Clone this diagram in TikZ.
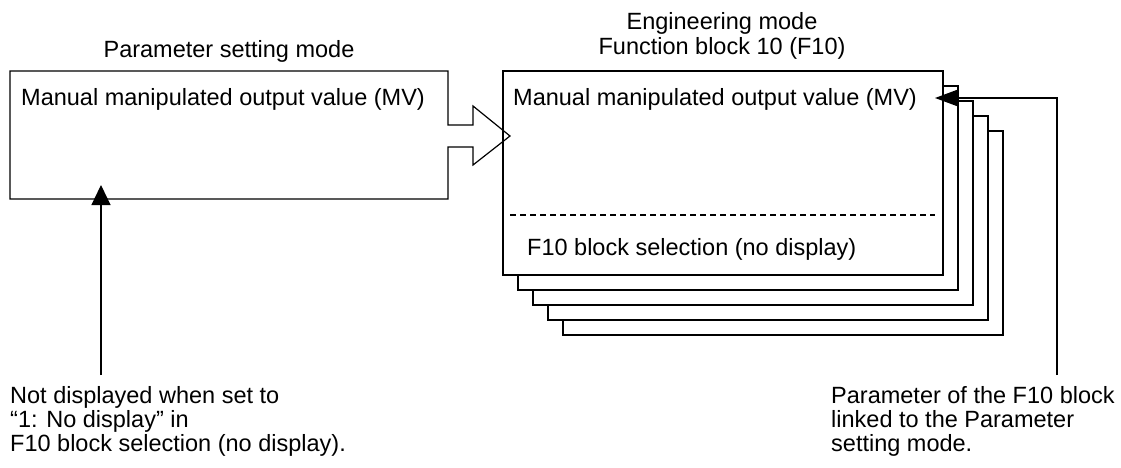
\documentclass[tikz,border=0pt]{standalone}
\usepackage{fontspec}
\setmainfont{Liberation Sans}
\usetikzlibrary{arrows.meta}
\begin{document}
\begin{tikzpicture}[x=1pt,y=-1pt,
  line/.style={line width=1.2pt,line join=miter},
  stackbox/.style={line width=1.2pt,fill=white},
  txt/.style={inner sep=0pt,anchor=base west,font=\fontsize{23.5}{24}\selectfont},
  ctxt/.style={inner sep=0pt,anchor=base,font=\fontsize{23.5}{24}\selectfont},
  uptip/.style={-{Triangle[length=20pt,width=19pt]}},
  lefttip/.style={-{Triangle[length=22pt,width=16pt]}}]
\useasboundingbox (0,0) rectangle (1121,468);
% stacked F10 boxes, back to front
\foreach \k in {4,3,2,1,0}{
  \draw[stackbox] (503+15*\k,71+15*\k) rectangle (943+15*\k,275+15*\k);
}
\node[draw=none,inner sep=0pt,minimum width=440pt,minimum height=204pt,anchor=north west] (front) at (503,71) {};
% left box with outline arrow
\draw[line] (10,71) -- (448,71) -- (448,125) -- (473,125) -- (473,106) -- (510,136)
  -- (473,165) -- (473,147) -- (448,147) -- (448,199) -- (10,199) -- cycle;
\node[inner sep=0pt,minimum width=438pt,minimum height=128pt,anchor=north west] (leftbox) at (10,71) {};
% dashed separator
\draw[line width=1.2pt,dash pattern=on 6pt off 4pt] (510,215) -- (935,215);
% titles
\node[ctxt] (ptitle) at (229,58) {Parameter setting mode};
\node[ctxt] (etitle) at (722,30) {Engineering mode};
\node[ctxt] (ftitle) at (722,55) {Function block 10 (F10)};
% box texts
\node[txt] (lmv) at (21,106) {Manual manipulated output value (MV)};
\node[txt] (rmv) at (513,106) {Manual manipulated output value (MV)};
\node[txt] (sel) at (527,255) {F10 block selection (no display)};
% bottom texts
\node[txt] (l1) at (10,403) {Not displayed when set to};
\node[txt] (l2) at (10,427) {“1: No display” in};
\node[txt] (l3) at (10,451) {F10 block selection (no display).};
\node[txt] (r1) at (831,403) {Parameter of the F10 block};
\node[txt] (r2) at (831,427) {linked to the Parameter};
\node[txt] (r3) at (831,451) {setting mode.};
% connectors
\coordinate (lfoot) at (101,375);
\coordinate (ltip) at (101,185);
\coordinate (rfoot) at (1057,375);
\coordinate (rtip) at (935,98);
\draw[line,uptip] (lfoot) -- (ltip);
\draw[line,lefttip] (rfoot) |- (rtip);
\end{tikzpicture}
\end{document}
